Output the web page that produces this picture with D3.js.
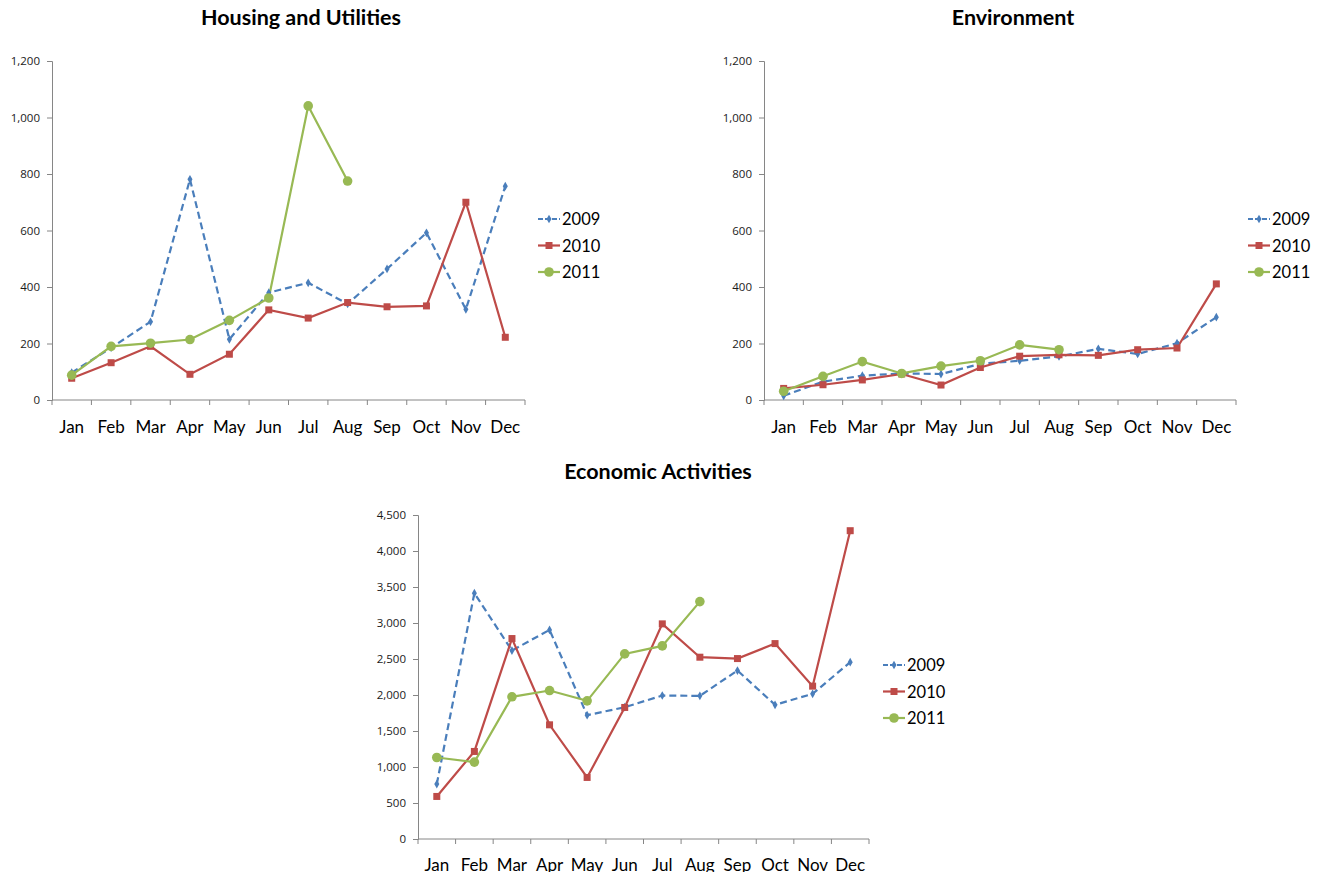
<!DOCTYPE html>
<html>
<head>
<meta charset="utf-8">
<script src="https://cdn.jsdelivr.net/npm/d3@7"></script>
<style>
  body { margin: 0; background: #fff; }
  text { font-family: Lato, "Open Sans", sans-serif; fill: #000; }
</style>
</head>
<body>
<div id="my_dataviz"></div>
<script>
// months and series names
var months = ["Jan", "Feb", "Mar", "Apr", "May", "Jun", "Jul", "Aug", "Sep", "Oct", "Nov", "Dec"];
var years = ["2009", "2010", "2011"];

// Housing and Utilities
var housing2009 = [97, 185, 277, 781, 215, 380, 415, 340, 464, 592, 321, 757];
var housing2010 = [77, 132, 190, 91, 162, 319, 290, 345, 330, 333, 700, 222];
var housing2011 = [88, 190, 201, 214, 282, 361, 1041, 775];
var housingTicks = [0, 200, 400, 600, 800, 1000, 1200];

// Environment
var env2009 = [15, 65, 86, 94, 92, 128, 139, 154, 181, 163, 201, 293];
var env2010 = [41, 54, 71, 92, 53, 115, 155, 160, 158, 178, 184, 411];
var env2011 = [31, 84, 136, 94, 120, 139, 195, 178];
var envTicks = [0, 200, 400, 600, 800, 1000, 1200];

// Economic Activities
var eco2009 = [763, 3414, 2617, 2904, 1720, 1830, 1993, 1988, 2340, 1864, 2016, 2456];
var eco2010 = [591, 1216, 2784, 1586, 855, 1827, 2988, 2525, 2506, 2714, 2123, 4282];
var eco2011 = [1132, 1068, 1975, 2062, 1919, 2571, 2682, 3297];
var ecoTicks = [0, 500, 1000, 1500, 2000, 2500, 3000, 3500, 4000, 4500];

var colors = ["#4A7EBB", "#BE4B48", "#98B954"];

var svg = d3.select("#my_dataviz")
    .append("svg")
    .attr("width", 1322)
    .attr("height", 872);

function drawChart(opt) {
    var g = svg.append("g")
        .attr("transform", "translate(" + opt.left + "," + opt.top + ")");
    var width = opt.width, height = opt.height;

    var x = d3.scaleBand().domain(months).range([0, width]);
    var y = d3.scaleLinear().domain([0, opt.max]).range([height, 0]);

    // y axis
    var yAxis = g.append("g")
        .call(d3.axisLeft(y).tickValues(opt.ticks).tickFormat(d3.format(",")).tickSize(5).tickPadding(7));
    yAxis.select(".domain").attr("stroke", "#868686");
    yAxis.selectAll(".tick line").attr("stroke", "#868686");
    yAxis.selectAll(".tick text")
        .style("font-size", "11.5px")
        .style("font-family", "'Open Sans', sans-serif")
        .style("fill", "#1a1a1a");

    // x axis: ticks on the band edges
    var xAxis = g.append("g").attr("transform", "translate(0," + height + ")");
    xAxis.append("line")
        .attr("x1", 0).attr("x2", width)
        .attr("stroke", "#868686");
    xAxis.selectAll("tickLines")
        .data(months.concat(["end"]))
        .enter()
        .append("line")
        .attr("x1", function (d, i) { return i * x.step() })
        .attr("x2", function (d, i) { return i * x.step() })
        .attr("y1", 0).attr("y2", 5)
        .attr("stroke", "#868686");
    xAxis.selectAll("monthLabels")
        .data(months)
        .enter()
        .append("text")
        .attr("x", function (d) { return x(d) + x.bandwidth() / 2 })
        .attr("y", opt.labelY)
        .attr("text-anchor", "middle")
        .style("font-size", "17px")
        .text(function (d) { return d });

    var line = d3.line()
        .x(function (d, i) { return x(months[i]) + x.bandwidth() / 2 })
        .y(function (d) { return y(d) });

    // lines
    opt.series.forEach(function (s, k) {
        g.append("path")
            .attr("d", line(s))
            .attr("fill", "none")
            .attr("stroke", colors[k])
            .attr("stroke-width", 2.2)
            .attr("stroke-dasharray", k == 0 ? "7,4" : null);
    });

    // markers
    opt.series.forEach(function (s, k) {
        var pts = g.selectAll("pts" + k)
            .data(s)
            .enter();
        drawMarker(pts, k,
            function (d, i) { return x(months[i]) + x.bandwidth() / 2 },
            function (d) { return y(d) });
    });

    // title
    svg.append("text")
        .attr("x", opt.titleX)
        .attr("y", opt.titleY)
        .attr("text-anchor", "middle")
        .style("font-size", "21.5px")
        .style("font-weight", "bold")
        .text(opt.title);

    // legend
    var lg = svg.append("g")
        .attr("transform", "translate(" + opt.legendX + "," + opt.legendY + ")");
    years.forEach(function (yr, k) {
        var row = lg.append("g").attr("transform", "translate(0," + (k * 26.5) + ")");
        row.append("line")
            .attr("x1", 0).attr("x2", 22)
            .attr("stroke", colors[k])
            .attr("stroke-width", 2.2)
            .attr("stroke-dasharray", k == 0 ? "5,2" : null);
        drawMarker(row.selectAll("m").data([0]).enter(), k, function () { return 11 }, function () { return 0 });
        row.append("text")
            .attr("x", 24)
            .attr("y", 6)
            .style("font-size", "16.5px")
            .text(yr);
    });
}

function drawMarker(sel, k, fx, fy) {
    if (k == 0) {
        sel.append("path")
            .attr("d", d3.symbol().type(d3.symbolDiamond).size(22))
            .attr("transform", function (d, i) { return "translate(" + fx(d, i) + "," + fy(d, i) + ")" })
            .attr("fill", colors[0]);
    } else if (k == 1) {
        sel.append("rect")
            .attr("x", function (d, i) { return fx(d, i) - 3.5 })
            .attr("y", function (d, i) { return fy(d, i) - 3.5 })
            .attr("width", 7).attr("height", 7)
            .attr("fill", colors[1]);
    } else {
        sel.append("circle")
            .attr("cx", function (d, i) { return fx(d, i) })
            .attr("cy", function (d, i) { return fy(d, i) })
            .attr("r", 4.8)
            .attr("fill", colors[2]);
    }
}

drawChart({
    title: "Housing and Utilities", titleX: 301, titleY: 25,
    left: 52, top: 61, width: 473, height: 339, max: 1200, ticks: housingTicks,
    labelY: 33, series: [housing2009, housing2010, housing2011],
    legendX: 538, legendY: 219
});

drawChart({
    title: "Environment", titleX: 1013, titleY: 25,
    left: 764, top: 61, width: 472, height: 339, max: 1200, ticks: envTicks,
    labelY: 33, series: [env2009, env2010, env2011],
    legendX: 1248, legendY: 219
});

drawChart({
    title: "Economic Activities", titleX: 658, titleY: 479,
    left: 418, top: 515, width: 451, height: 324, max: 4500, ticks: ecoTicks,
    labelY: 32, series: [eco2009, eco2010, eco2011],
    legendX: 883, legendY: 665
});
</script>
</body>
</html>
